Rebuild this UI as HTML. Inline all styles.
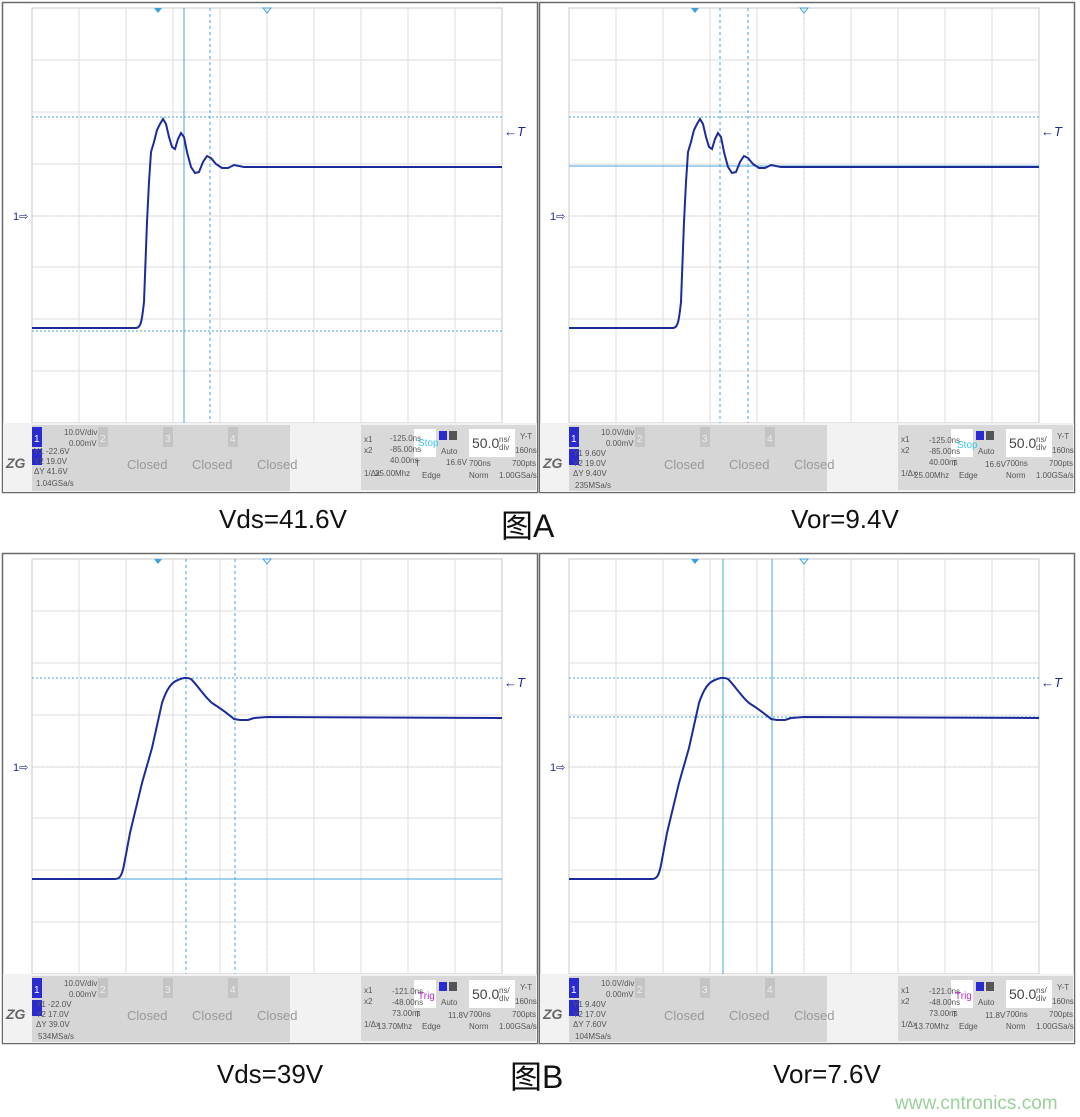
<!DOCTYPE html>
<html><head><meta charset="utf-8"><style>
html,body{margin:0;padding:0;background:#fff;width:1080px;height:1117px;overflow:hidden}
svg{display:block}
.t{font-family:"Liberation Sans",sans-serif}
.s{font-family:"Liberation Sans",sans-serif;font-size:8px;fill:#555}
.g{font-family:"Liberation Sans",sans-serif;font-size:13px;fill:#999}
</style></head><body>
<svg width="1080" height="1117" viewBox="0 0 1080 1117" xmlns="http://www.w3.org/2000/svg">
<defs>
<g id="frame">
  <rect x="0.5" y="0.5" width="535" height="490" fill="#fff" stroke="#6a6a6a" stroke-width="1.5"/>
  <rect x="30" y="6" width="470" height="415" fill="#fff" stroke="#c8c8c8"/>
  <g stroke="#dedede" stroke-width="1">
    <path d="M77,6V421M124,6V421M171,6V421M218,6V421M265,6V421M312,6V421M359,6V421M406,6V421M453,6V421"/>
    <path d="M30,58H500M30,110H500M30,162H500M30,214H500M30,265H500M30,317H500M30,369H500"/>
  </g>
  <g stroke="#c8c8c8" stroke-dasharray="1,4">
    <path d="M265,6V421M30,214H500"/>
  </g>
  <rect x="1" y="421" width="534" height="69" fill="#f2f2f2"/>
  <rect x="30" y="423" width="258" height="66" fill="#d6d6d6"/>
  <rect x="359" y="423" width="175" height="65" fill="#d9d9d9"/>
  <rect x="30" y="425" width="10" height="20" fill="#2a2ad0"/>
  <rect x="30" y="447" width="10" height="16" fill="#2a2ad0"/>
  <text x="32" y="440" class="t" font-size="10" fill="#fff">1</text>
  <rect x="96" y="425" width="10" height="20" fill="#c4c4c4"/>
  <rect x="161" y="425" width="10" height="20" fill="#c4c4c4"/>
  <rect x="226" y="425" width="10" height="20" fill="#c4c4c4"/>
  <text x="98" y="440" class="t" font-size="10" fill="#eee">2</text>
  <text x="163" y="440" class="t" font-size="10" fill="#eee">3</text>
  <text x="228" y="440" class="t" font-size="10" fill="#eee">4</text>
  <text x="62" y="433" class="s">10.0V/div</text>
  <text x="67" y="444" class="s">0.00mV</text>
  <text x="125" y="467" class="g">Closed</text>
  <text x="190" y="467" class="g">Closed</text>
  <text x="255" y="467" class="g">Closed</text>
  <text x="4" y="466" class="t" font-size="14" font-style="italic" font-weight="bold" fill="#666">ZG</text>
  <rect x="412" y="427" width="22" height="28" fill="#fff"/>
  <rect x="467" y="427" width="46" height="28" fill="#fff"/>
  <text x="470" y="446" class="t" font-size="14" fill="#444">50.0</text>
  <text x="497" y="440" class="s" font-size="6">ns/</text>
  <text x="497" y="448" class="s" font-size="6">div</text>
  <rect x="437" y="429" width="8" height="9" fill="#2a2ad0"/>
  <rect x="447" y="429" width="8" height="9" fill="#555"/>
  <text x="362" y="440" class="s">x1</text>
  <text x="362" y="451" class="s">x2</text>
  <text x="362" y="474" class="s">1/Δx</text>
  <text x="439" y="452" class="s">Auto</text>
  <text x="413" y="464" class="s">T</text>
  <text x="420" y="476" class="s">Edge</text>
  <text x="467" y="464" class="s" fill="#333">700ns</text>
  <text x="467" y="476" class="s">Norm</text>
  <text x="518" y="437" class="s" fill="#333">Y-T</text>
  <text x="513" y="451" class="s" fill="#333">160ns</text>
  <text x="510" y="464" class="s">700pts</text>
  <text x="497" y="476" class="s">1.00GSa/s</text>
  <text x="502" y="134" class="t" font-size="13" font-style="italic" fill="#1c2b9a">←T</text>
  <text x="11" y="218" class="t" font-size="11" fill="#1c2b9a">1⇨</text>
  <path d="M152,6l4,5l4,-5z" fill="#3aa0d8"/>
  <path d="M261,6l4,5l4,-5z" fill="none" stroke="#3aa0d8"/>
</g>
<path id="trA" d="M30,326 L134,326 C139,326 140,318 142,300 L145,220 L147,180 L149,150 L152,140 L155,128 L158,122 L161,117 L164,122 L167,135 L170,145 L173,147 L176,137 L179,131 L182,135 L185,150 L189,165 L193,171 L197,170 L201,160 L205,154 L209,156 L214,162 L220,166 L226,166 L232,163 L237,164 L242,165 L500,165" fill="none" stroke="#1c2b9a" stroke-width="2"/>
<path id="trB" d="M30,326 L113,326 C118,326 120,322 122,312 L128,280 L140,230 L150,195 L160,150 C165,135 170,129 176,127 C180,125 185,124 189,126 C196,133 202,143 210,150 C218,155 225,160 232,166 L238,167 L246,167 L252,165 L265,164 L500,165" fill="none" stroke="#1c2b9a" stroke-width="2"/>
</defs>

<g transform="translate(2,2)">
  <use href="#frame"/>
  <g stroke="#4aa3d8" stroke-width="1">
    <path d="M30,115H500M30,329H500" stroke-dasharray="2,2"/>
    <path d="M182,6V421"/>
    <path d="M208,6V421" stroke-dasharray="3,3"/>
  </g>
  <use href="#trA"/>
</g>
<text x="34" y="454" class="s" fill="#555">Y1 -22.6V</text>
<text x="34" y="464" class="s" fill="#555">Y2 19.0V</text>
<text x="34" y="474" class="s" fill="#555">ΔY 41.6V</text>
<text x="36" y="486" class="s" fill="#555">1.04GSa/s</text>
<text x="390" y="441" class="s">-125.0ns</text>
<text x="390" y="452" class="s">-85.00ns</text>
<text x="390" y="463" class="s">40.00ns</text>
<text x="375" y="476" class="s">25.00Mhz</text>
<text x="418" y="446" class="t" font-size="10" fill="#38c8e8">Stop</text>
<text x="446" y="465" class="s" fill="#333">16.6V</text>

<g transform="translate(539,2)">
  <use href="#frame"/>
  <g stroke="#4aa3d8" stroke-width="1">
    <path d="M30,115H500" stroke-dasharray="2,2"/>
    <path d="M30,164H500"/>
    <path d="M181,6V421M209,6V421" stroke-dasharray="3,3"/>
  </g>
  <use href="#trA"/>
  <text x="34" y="454" class="s">Y1 9.60V</text>
  <text x="34" y="464" class="s">Y2 19.0V</text>
  <text x="34" y="474" class="s">ΔY 9.40V</text>
  <text x="36" y="486" class="s">235MSa/s</text>
  <text x="390" y="441" class="s">-125.0ns</text>
  <text x="390" y="452" class="s">-85.00ns</text>
  <text x="390" y="463" class="s">40.00ns</text>
  <text x="375" y="476" class="s">25.00Mhz</text>
  <text x="418" y="446" class="t" font-size="10" fill="#38c8e8">Stop</text>
  <text x="446" y="465" class="s" fill="#333">16.6V</text>
</g>

<g transform="translate(2,553)">
  <use href="#frame"/>
  <g stroke="#4aa3d8" stroke-width="1">
    <path d="M30,125H500" stroke-dasharray="2,2"/>
    <path d="M30,326H500"/>
    <path d="M184,6V421M233,6V421" stroke-dasharray="3,3"/>
  </g>
  <use href="#trB"/>
  <text x="34" y="454" class="s">Y1 -22.0V</text>
  <text x="34" y="464" class="s">Y2 17.0V</text>
  <text x="34" y="474" class="s">ΔY 39.0V</text>
  <text x="36" y="486" class="s">534MSa/s</text>
  <text x="390" y="441" class="s">-121.0ns</text>
  <text x="390" y="452" class="s">-48.00ns</text>
  <text x="390" y="463" class="s">73.00ns</text>
  <text x="375" y="476" class="s">13.70Mhz</text>
  <text x="416" y="446" class="t" font-size="10" fill="#b030c0">Trig</text>
  <text x="446" y="465" class="s" fill="#333">11.8V</text>
</g>

<g transform="translate(539,553)">
  <use href="#frame"/>
  <g stroke="#4aa3d8" stroke-width="1">
    <path d="M30,125H500M30,164H500" stroke-dasharray="2,2"/>
    <path d="M184,6V421M233,6V421"/>
  </g>
  <use href="#trB"/>
  <text x="34" y="454" class="s">Y1 9.40V</text>
  <text x="34" y="464" class="s">Y2 17.0V</text>
  <text x="34" y="474" class="s">ΔY 7.60V</text>
  <text x="36" y="486" class="s">104MSa/s</text>
  <text x="390" y="441" class="s">-121.0ns</text>
  <text x="390" y="452" class="s">-48.00ns</text>
  <text x="390" y="463" class="s">73.00ns</text>
  <text x="375" y="476" class="s">13.70Mhz</text>
  <text x="416" y="446" class="t" font-size="10" fill="#b030c0">Trig</text>
  <text x="446" y="465" class="s" fill="#333">11.8V</text>
</g>

<g class="t" font-size="26" fill="#111">
  <text x="283" y="528" text-anchor="middle">Vds=41.6V</text>
  <text x="845" y="528" text-anchor="middle">Vor=9.4V</text>
  <text x="270" y="1083" text-anchor="middle">Vds=39V</text>
  <text x="827" y="1083" text-anchor="middle">Vor=7.6V</text>
</g>
<text x="501" y="537" font-family="'Liberation Sans','Noto Sans CJK SC',sans-serif" font-size="32" fill="#111">图A</text>
<text x="510" y="1088" font-family="'Liberation Sans','Noto Sans CJK SC',sans-serif" font-size="32" fill="#111">图B</text>
<text x="895" y="1109" class="t" font-size="19" fill="#9ccf9c">www.cntronics.com</text>
</svg>
</body></html>
